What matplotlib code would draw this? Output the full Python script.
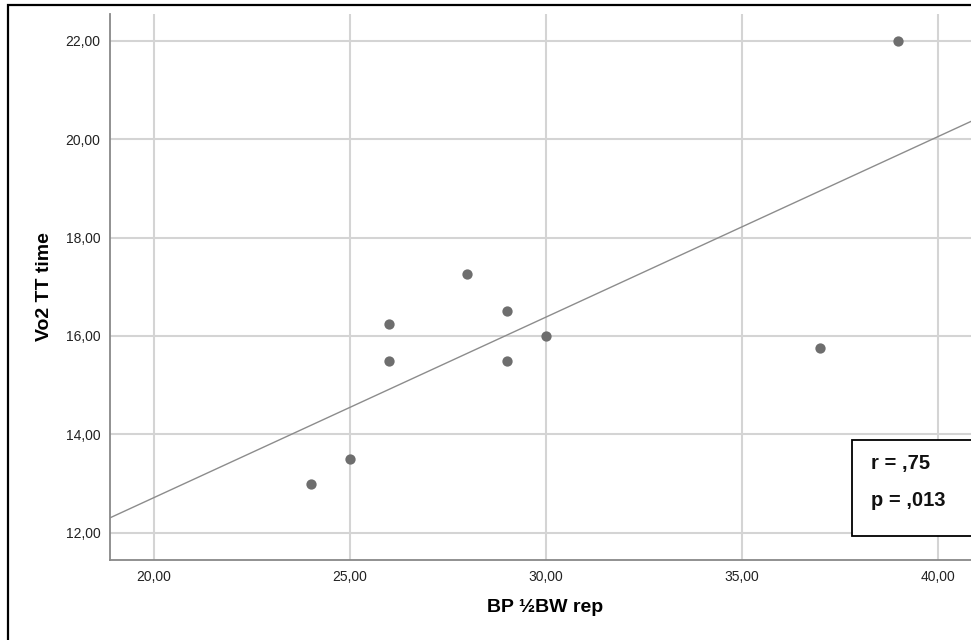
import numpy as np
import matplotlib
matplotlib.use("Agg")
import matplotlib.pyplot as plt
from matplotlib.patches import Rectangle

plt.rcParams['font.family'] = ['Liberation Sans', 'DejaVu Sans']

# data
bp_half_bw_rep = [24, 25, 26, 26, 28, 29, 29, 30, 37, 39]
vo2_tt_time = [13.0, 13.5, 16.25, 15.5, 17.25, 16.5, 15.5, 16.0, 15.75, 22.0]
x_ticks = [20, 25, 30, 35, 40]
y_ticks = [12, 14, 16, 18, 20, 22]
stats_lines = ["r = ,75", "p = ,013"]

W, H = 971, 640
fig = plt.figure(figsize=(W / 100, H / 100), dpi=100)
ax = fig.add_axes([110 / W, (H - 560) / H, 1 - 110 / W + 0.01, (560 - 14) / H])

xlim = (18.88, 41.1)
ax.set_xlim(*xlim)
ax.set_ylim(11.45, 22.54)

ax.grid(True, color='#d4d4d4', lw=1.5, zorder=0)
ax.set_axisbelow(True)

ax.scatter(bp_half_bw_rep, vo2_tt_time, s=55, color='#6e6e6e', zorder=3, linewidths=0)

# linear fit line
slope, icpt = np.polyfit(bp_half_bw_rep, vo2_tt_time, 1)
xs = np.array(xlim)
ax.plot(xs, slope * xs + icpt, color='#8c8c8c', lw=1.0, zorder=2)

ax.set_xticks(x_ticks)
ax.set_yticks(y_ticks)
ax.set_xticklabels([f"{v:.2f}".replace('.', ',') for v in x_ticks])
ax.set_yticklabels([f"{v:.2f}".replace('.', ',') for v in y_ticks])
ax.tick_params(length=0, labelsize=10, colors='#222222', pad=7)

for s in ['top', 'right']:
    ax.spines[s].set_visible(False)
for s in ['left', 'bottom']:
    ax.spines[s].set_color('#888888')
    ax.spines[s].set_linewidth(1.3)

ax.set_xlabel("BP ½BW rep", fontsize=14, fontweight='bold', labelpad=11)
ax.set_ylabel("Vo2 TT time", fontsize=14, fontweight='bold', labelpad=9)

# stats box
fig.patches.append(Rectangle((852 / W, 1 - 536 / H), 0.2, 96 / H, transform=fig.transFigure,
                             fill=True, facecolor='white', edgecolor='black', lw=1.3, zorder=5))
for i, line in enumerate(stats_lines):
    fig.text(871 / W, 1 - (464 + 37 * i) / H, line, fontsize=14.5, fontweight='bold',
             va='center', color='#111111', zorder=6)

# outer frame
fig.patches.append(Rectangle((8 / W, -0.05), 1.0, 1 - 5 / H + 0.05, transform=fig.transFigure,
                             fill=False, edgecolor='black', lw=1.6))

fig.savefig("out.png", dpi=100)
